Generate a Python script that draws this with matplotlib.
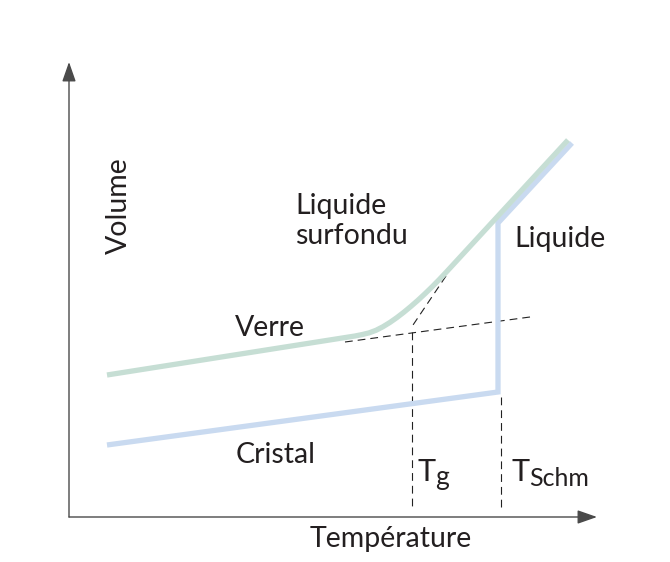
"""
Courbe volume / température : verre et cristal (schéma)
"""

import matplotlib
matplotlib.use('Agg')
import matplotlib.pyplot as plt

# Verre : verre solide -> liquide surfondu -> liquide
verre_t = [38, 286, 293, 300, 307, 314, 321, 328, 335, 342, 349, 356, 363, 370, 377, 499]
verre_v = [142, 181, 182.4, 184.1, 186.7, 190.3, 194.6, 199.5, 204.9, 210.7, 216.8,
           223.3, 230.1, 237.2, 244.6, 377]

# Cristal : solide, fusion (saut vertical) puis liquide
cristal_t = [38, 429, 429, 503]
cristal_v = [72, 125, 294, 374]

# Lignes de construction (pointillés)
ext_verre_t = [276, 461]
ext_verre_v = [175, 200]
tangente_t = [377, 344]
tangente_v = [241, 192]
tg_t = [343, 343]
tg_v = [185, 10]
tschm_t = [432, 432]
tschm_v = [120, 10]

# Axes (bout des flèches)
axe_x_fin = 528
axe_y_fin = 455

FONT = ['Lato', 'DejaVu Sans']
TXT = '#231f20'
VERT = '#c6ded4'
BLEU = '#c9daf0'

plt.rcParams['font.family'] = FONT

fig = plt.figure(figsize=(6.7, 5.62), dpi=100)
ax = fig.add_axes([0, 0, 1, 1])
ax.set_xlim(-69, 601)
ax.set_ylim(-45, 517)
ax.axis('off')

# axes avec flèches
for tip in [(axe_x_fin, 0), (0, axe_y_fin)]:
    ax.annotate('', xy=tip, xytext=(0, 0),
                arrowprops=dict(arrowstyle='-|>,head_length=1.2,head_width=0.42',
                                color='#4a4a4a', lw=1.0, shrinkA=0, shrinkB=0))

dash = (0, (7, 4.5))
ax.plot(ext_verre_t, ext_verre_v, color='#222222', lw=0.8, linestyle=dash)
ax.plot(tangente_t, tangente_v, color='#222222', lw=0.8, linestyle=dash)
ax.plot(tg_t, tg_v, color='#222222', lw=0.8, linestyle=dash)
ax.plot(tschm_t, tschm_v, color='#222222', lw=0.8, linestyle=dash)

ax.plot(cristal_t, cristal_v, color=BLEU, lw=3.8, solid_capstyle='butt',
        solid_joinstyle='miter')
ax.plot(verre_t, verre_v, color=VERT, lw=3.8, solid_capstyle='butt',
        solid_joinstyle='round')

fs = 20.5
ax.text(50, 311, 'Volume', rotation=90, ha='center', va='center',
        fontsize=fs, color=TXT)
ax.text(226, 296, 'Liquide\nsurfondu', ha='left', va='center',
        fontsize=fs, color=TXT, linespacing=1.15)
ax.text(445, 278, 'Liquide', ha='left', va='center', fontsize=fs, color=TXT)
ax.text(166, 189, 'Verre', ha='left', va='center', fontsize=fs, color=TXT)
ax.text(167, 62, 'Cristal', ha='left', va='center', fontsize=fs, color=TXT)
ax.text(241, -22, 'Température', ha='left', va='center', fontsize=fs, color=TXT)

ax.text(349, 36, 'T', ha='left', va='baseline', fontsize=22, color=TXT)
ax.text(366, 32, 'g', ha='left', va='baseline', fontsize=19, color=TXT)
ax.text(442, 36, 'T', ha='left', va='baseline', fontsize=22, color=TXT)
ax.text(460, 31, 'Schm', ha='left', va='baseline', fontsize=18, color=TXT)

fig.savefig('out.png', dpi=100)
plt.close(fig)
